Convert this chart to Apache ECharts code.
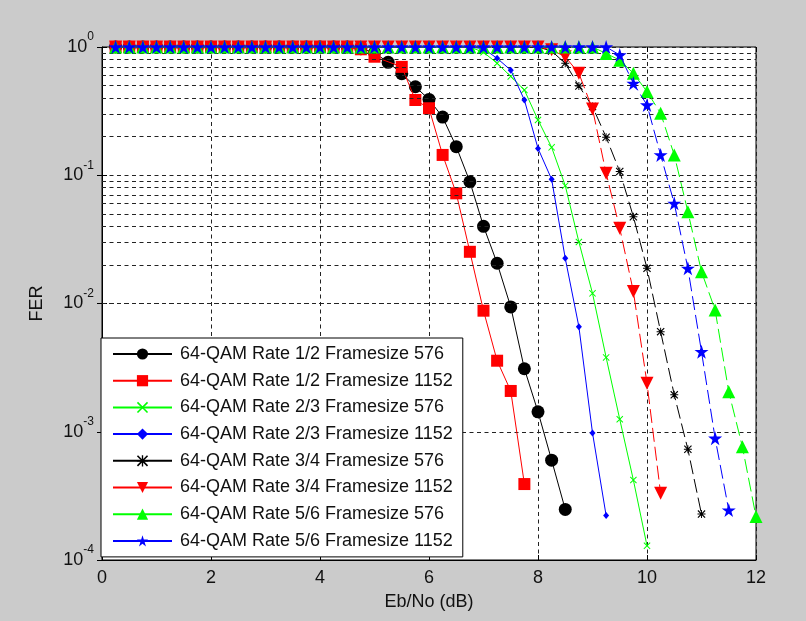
<!DOCTYPE html>
<html>
<head>
<meta charset="utf-8">
<script src="https://cdn.jsdelivr.net/npm/echarts@6/dist/echarts.min.js"></script>
<style>
html,body{margin:0;padding:0;background:#cbcbcb;}
#chart{width:806px;height:621px;}
</style>
</head>
<body>
<div id="chart"></div>
<script>
// Eb/No grid (dB)
const ebno = [0.25,0.5,0.75,1.0,1.25,1.5,1.75,2.0,2.25,2.5,2.75,3.0,3.25,3.5,3.75,4.0,
  4.25,4.5,4.75,5.0,5.25,5.5,5.75,6.0,6.25,6.5,6.75,7.0,7.25,7.5,7.75,8.0,
  8.25,8.5,8.75,9.0,9.25,9.5,9.75,10.0,10.25,10.5,10.75,11.0,11.25,11.5,11.75,12.0];

const seriesNames = [
  '64-QAM Rate 1/2 Framesize 576',
  '64-QAM Rate 1/2 Framesize 1152',
  '64-QAM Rate 2/3 Framesize 576',
  '64-QAM Rate 2/3 Framesize 1152',
  '64-QAM Rate 3/4 Framesize 576',
  '64-QAM Rate 3/4 Framesize 1152',
  '64-QAM Rate 5/6 Framesize 576',
  '64-QAM Rate 5/6 Framesize 1152'
];

const ferR12_576 = [1,1,1,1,1,1,1,1,1,1,1,1,1,1,1,1,1,1,
  0.97,0.9,0.76,0.62,0.49,0.39,0.284,0.167,0.089,0.040,0.0206,0.0094,0.0031,0.00143,0.0006,0.000248];
const ferR12_1152 = [1,1,1,1,1,1,1,1,1,1,1,1,1,1,1,1,1,1,
  0.96,0.84,null,0.70,0.386,0.333,0.144,0.0723,0.0253,0.00879,0.00358,0.00208,0.000391];
const ferR23_576 = [1,1,1,1,1,1,1,1,1,1,1,1,1,1,1,1,1,1,1,1,1,1,1,1,1,1,1,
  0.91,0.746,0.59,0.462,0.27,0.165,0.083,0.0302,0.0120,0.0038,0.00125,0.00042,0.000129];
const ferR23_1152 = [1,1,1,1,1,1,1,1,1,1,1,1,1,1,1,1,1,1,1,1,1,1,1,1,1,1,1,
  0.97,0.816,0.66,0.386,0.162,0.093,0.0225,0.00659,0.00098,0.000222];
const ferR34_576 = [1,1,1,1,1,1,1,1,1,1,1,1,1,1,1,1,1,1,1,1,1,1,1,1,1,1,1,1,1,1,1,1,
  0.93,0.746,0.497,0.343,0.198,0.107,0.0475,0.0188,0.00603,0.00194,0.00073,0.000228];
const ferR34_1152 = [1,1,1,1,1,1,1,1,1,1,1,1,1,1,1,1,1,1,1,1,1,1,1,1,1,1,1,1,1,1,1,1,
  0.95,0.84,0.623,0.329,0.1036,0.0386,0.0124,0.00239,0.000331];
const ferR56_576 = [1,1,1,1,1,1,1,1,1,1,1,1,1,1,1,1,1,1,1,1,1,1,1,1,1,1,1,1,1,1,1,1,1,1,1,1,
  0.89,0.79,0.623,0.449,0.304,0.144,0.052,0.0177,0.0089,0.00205,0.000765,0.000218];
const ferR56_1152 = [1,1,1,1,1,1,1,1,1,1,1,1,1,1,1,1,1,1,1,1,1,1,1,1,1,1,1,1,1,1,1,1,1,1,1,1,1,
  0.866,0.521,0.353,0.144,0.0604,0.0188,0.00421,0.00089,0.000245];

const xTicks = [0,2,4,6,8,10,12];
const yDecades = [1e-4,1e-3,1e-2,1e-1,1];

// minor log grid positions (2..9 x decade)
const minorGrid = [];
for (let d = 0; d < yDecades.length - 1; d++) {
  for (let m = 2; m <= 9; m++) minorGrid.push(yDecades[d] * m);
}

const STAR = 'path://M10,0 L12.25,6.91 L19.51,6.91 L13.63,11.18 L15.88,18.09 L10,13.82 L4.12,18.09 L6.37,11.18 L0.49,6.91 L7.75,6.91 Z';
const XMARK = 'path://M1,0 L5,4 L9,0 L10,1 L6,5 L10,9 L9,10 L5,6 L1,10 L0,9 L4,5 L0,1 Z';
const ASTER = 'path://M4.4,0 L5.6,0 L5.6,10 L4.4,10 Z M0,4.4 L10,4.4 L10,5.6 L0,5.6 Z M1,0 L5,4 L9,0 L10,1 L6,5 L10,9 L9,10 L5,6 L1,10 L0,9 L4,5 L0,1 Z';

const styles = [
  {data: ferR12_576, color: '#000000', symbol: 'circle', size: 13, dash: 'solid'},
  {data: ferR12_1152, color: '#ff0000', symbol: 'rect', size: 12, dash: 'solid'},
  {data: ferR23_576, color: '#00ff00', symbol: XMARK, size: 7, dash: 'solid'},
  {data: ferR23_1152, color: '#0000ff', symbol: 'diamond', size: [6, 7], dash: 'solid'},
  {data: ferR34_576, color: '#000000', symbol: ASTER, size: 8, dash: [14, 5]},
  {data: ferR34_1152, color: '#ff0000', symbol: 'triangle', size: 13, dash: [14, 5], rotate: 180},
  {data: ferR56_576, color: '#00ff00', symbol: 'triangle', size: 13, dash: [14, 5]},
  {data: ferR56_1152, color: '#0000ff', symbol: STAR, size: 14, dash: [14, 5]}
];

const FONT = 'Liberation Sans, Arial, sans-serif';
const gridLine = {show: true, lineStyle: {color: '#222', type: [4, 3.5], width: 1}};

const series = [{
  name: '__grid',
  type: 'line',
  data: [[1, 1]],
  showSymbol: false,
  symbol: 'none',
  lineStyle: {width: 0},
  silent: true,
  z: 1,
  markLine: {
    silent: true,
    symbol: ['none', 'none'],
    label: {show: false},
    lineStyle: {color: '#222', type: [4, 3.5], width: 1},
    data: minorGrid.map(v => ({yAxis: v}))
  }
}];

styles.forEach((s, i) => {
  series.push({
    name: seriesNames[i],
    type: 'line',
    data: s.data.map((y, k) => [ebno[k], y]),
    connectNulls: true,
    symbol: s.symbol,
    symbolSize: s.size,
    symbolRotate: s.rotate || 0,
    showAllSymbol: true,
    clip: false,
    z: 3 + i,
    itemStyle: {color: s.color},
    lineStyle: {color: s.color, width: 1, type: s.dash}
  });
});

const chart = echarts.init(document.getElementById('chart'), null, {renderer: 'canvas'});
chart.setOption({
  animation: false,
  backgroundColor: '#cbcbcb',
  textStyle: {fontFamily: FONT},
  grid: {
    left: 102, top: 47, width: 654, height: 513,
    show: true, backgroundColor: '#ffffff', borderColor: '#000', borderWidth: 1
  },
  legend: {
    data: seriesNames,
    orient: 'vertical',
    left: 101, top: 338,
    backgroundColor: '#ffffff',
    borderColor: '#000', borderWidth: 1,
    padding: [6, 10, 6, 11],
    itemWidth: 59, itemHeight: 14, itemGap: 6.7,
    lineStyle: {type: 'solid'},
    textStyle: {fontFamily: FONT, fontSize: 18, color: '#111', lineHeight: 20, padding: [0, 0, 0, 3]}
  },
  xAxis: [{
    type: 'value', min: 0, max: 12, interval: 2,
    name: 'Eb/No (dB)', nameLocation: 'middle', nameGap: 33,
    nameTextStyle: {fontFamily: FONT, fontSize: 18, color: '#111'},
    axisLine: {show: true, lineStyle: {color: '#000'}},
    axisTick: {show: true, inside: true, length: 5, lineStyle: {color: '#000'}},
    axisLabel: {fontFamily: FONT, fontSize: 18, color: '#111', margin: 9,
      formatter: v => xTicks.indexOf(v) >= 0 ? String(v) : ''},
    splitLine: gridLine
  }, {
    type: 'value', min: 0, max: 12, interval: 2, position: 'top',
    axisLine: {show: false},
    axisTick: {show: true, inside: true, length: 5, lineStyle: {color: '#000'}},
    axisLabel: {show: false}, splitLine: {show: false}
  }],
  yAxis: [{
    type: 'log', logBase: 10, min: 1e-4, max: 1,
    name: 'FER', nameLocation: 'middle', nameGap: 56, nameRotate: 90,
    nameTextStyle: {fontFamily: FONT, fontSize: 18, color: '#111'},
    axisLine: {show: true, lineStyle: {color: '#000'}},
    axisTick: {show: true, inside: true, length: 5, lineStyle: {color: '#000'}},
    axisLabel: {
      margin: 8, color: '#111',
      formatter: v => {
        const e = Math.round(Math.log10(v));
        return '{b|10}{s|' + e + '}';
      },
      rich: {
        b: {fontFamily: FONT, fontSize: 18, color: '#111'},
        s: {fontFamily: FONT, fontSize: 12, color: '#111', padding: [0, 0, 20, 0]}
      }
    },
    splitLine: gridLine
  }, {
    type: 'log', logBase: 10, min: 1e-4, max: 1, position: 'right',
    axisLine: {show: false},
    axisTick: {show: true, inside: true, length: 5, lineStyle: {color: '#000'}},
    axisLabel: {show: false}, splitLine: {show: false}
  }],
  series: series
});
</script>
</body>
</html>
